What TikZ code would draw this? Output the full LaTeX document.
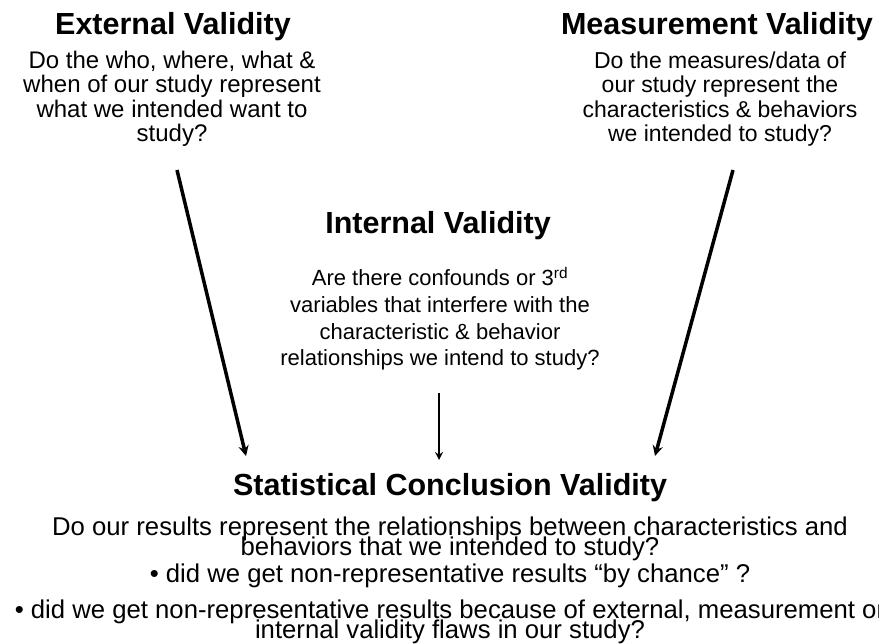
\documentclass[tikz,border=0pt]{standalone}
\usepackage{fontspec}
\setmainfont{Liberation Sans}
\usepackage{tikz}
\setlength{\lineskiplimit}{-100pt}

\tikzset{
    naslov/.style={font=\fontsize{30.5}{30.5}\selectfont\bfseries, inner sep=0pt, anchor=base},
    besedilo/.style={font=\fontsize{23}{24.5}\selectfont, align=center, inner sep=0pt, anchor=north},
    spodaj/.style={besedilo, font=\fontsize{25.7}{20}\selectfont},
    puscica/.style={-stealth, line width=3.5pt},
}

\begin{document}
\begin{tikzpicture}[x=1pt, y=-1pt]
                \useasboundingbox (0, 0) rectangle (879, 644);

                % naslovi
                \node[naslov] (ext) at (173, 35) {External Validity};
                \node[naslov] (meas) at (717, 35) {Measurement Validity};
                \node[naslov] (int) at (438, 234) {Internal Validity};
                \node[naslov] (stat) at (450, 495) {Statistical Conclusion Validity};

                % besedila
                \node[besedilo, font=\fontsize{24}{24.5}\selectfont] (extq) at (172, 50.5) {Do the who, where, what \&\\ when of our study represent\\ what we intended want to\\ study?};
                \node[besedilo] (measq) at (720, 51.2) {Do the measures/data of\\ our study represent the\\ characteristics \& behaviors\\ we intended to study?};
                \node[besedilo, font=\fontsize{22}{26.7}\selectfont] (intq) at (440, 267) {Are there confounds or 3\textsuperscript{rd}\\ variables that interfere with the\\ characteristic \& behavior\\ relationships we intend to study?};

                % spodaj
                \node[spodaj] (statq) at (450, 517) {Do our results represent the relationships between characteristics and\\ behaviors that we intended to study?};
                \node[spodaj] (b1) at (450, 563.3) {\textbullet\ did we get non-representative results “by chance” ?};
                \node[spodaj] (b2) at (450, 599.3) {\textbullet\ did we get non-representative results because of external, measurement or\\ internal validity flaws in our study?};

                % puščice
                \coordinate (l1) at (177, 170);
                \coordinate (l2) at (246, 456);
                \coordinate (d1) at (733, 170);
                \coordinate (d2) at (655, 456);
                \coordinate (s1) at (439, 393);
                \coordinate (s2) at (439, 460);
                \draw[puscica] (l1) -- (l2);
                \draw[puscica] (d1) -- (d2);
                \draw[puscica, line width=2.5pt] (s1) -- (s2);
            \end{tikzpicture}
\end{document}
